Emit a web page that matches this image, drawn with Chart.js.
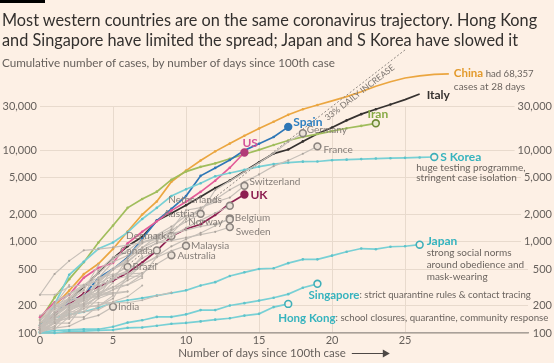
<!DOCTYPE html>
<html><head><meta charset="utf-8">
<script src="https://cdn.jsdelivr.net/npm/chart.js@4.4.1/dist/chart.umd.min.js"></script>
<style>
html,body{margin:0;padding:0;background:#fdf0e5;}
#wrap{position:relative;width:554px;height:363px;overflow:hidden;background:#fdf0e5;font-family:Lato,sans-serif;}
#bar{position:absolute;left:0;top:0;width:45px;height:3px;background:#000;}
#title{position:absolute;left:2px;top:10px;font-size:16.3px;line-height:19.5px;color:#33302e;white-space:nowrap;}
#sub{position:absolute;left:2px;top:55px;font-size:11.7px;line-height:14px;color:#66605c;white-space:nowrap;}
canvas{position:absolute;left:0;top:0;}
</style></head>
<body><div id="wrap"><canvas id="c" width="554" height="363"></canvas><div id="bar"></div>
<div id="title">Most western countries are on the same coronavirus trajectory. Hong Kong<br>and Singapore have limited the spread; Japan and S Korea have slowed it</div>
<div id="sub">Cumulative number of cases, by number of days since 100th case</div></div>
<script>
// ---------- data (cumulative cases, index = days since 100th case) ----------
const xTicks = [0, 5, 10, 15, 20, 25];
const yTicks = [100, 200, 500, 1000, 2000, 5000, 10000, 30000];
const china = [121,198,291,440,571,830,1287,1975,2744,4515,5974,7711,9692,11791,14380,17205,20438,24324,28018,31161,34546,38500,43500,50000,56000,61500,65000,67300,68357];
const italy = [110,155,229,322,453,655,888,1128,1694,2036,2502,3089,3858,4636,5883,7375,9172,10149,12462,15113,17660,21157,24747,27980,31506,35713,41035];
const spain = [120,165,222,259,400,500,673,1073,1695,2277,3146,5232,6391,7798,9942,11748,13910,17963];
const germany = [130,159,196,262,482,670,799,1040,1176,1457,1908,2078,3675,4585,5795,7272,9257,12327,15320];
const france = [100,130,191,204,288,380,656,957,1136,1219,1794,2293,2876,3681,4496,5423,6683,7715,9124,10995];
const iran = [139,245,388,593,978,1501,2336,2922,3513,4747,5823,6566,7161,8042,9000,10075,11364,12729,13938,14991,16169,17361,18407,19644];
const us = [149,217,262,402,518,583,959,1281,1663,2179,2727,3499,4632,6421,9415];
const switzerland = [114,214,268,337,374,491,652,858,1139,1359,2200,2353,2700,3028,4075];
const uk = [115,163,206,273,321,373,456,590,798,1140,1372,1543,1950,2626,3269];
const netherlands = [128,188,265,321,382,503,614,804,959,1135,1413,1705,2051,2460];
const austria = [104,131,182,246,302,504,655,860,1018,1332,1646,2013];
const belgium = [109,169,200,239,267,314,399,559,689,886,1058,1243,1486,1795];
const sweden = [101,161,203,248,355,500,599,814,961,1022,1103,1190,1279,1439];
const norway = [108,147,176,205,400,598,702,996,1090,1221,1333,1463,1550,1746];
const denmark = [262,442,615,801,827,864,914,977,1057,1151];
const canada = [108,117,193,198,252,415,478,657,800];
const malaysia = [100,129,149,149,197,238,428,566,673,790,900];
const australia = [107,128,128,200,250,297,377,452,568,709];
const brazil = [121,151,200,234,346,428,529];
const india = [102,113,119,142,156,194];
const japan = [122,147,159,170,189,214,228,241,256,274,293,331,360,420,461,502,511,581,639,639,701,773,839,825,878,889,924];
const singapore = [102,106,108,110,110,117,130,138,150,150,160,178,178,200,212,226,243,266,313,345];
const hongKong = [100,100,105,105,107,108,114,115,120,126,129,134,140,145,155,162,192,208];
const sKorea = [104,204,433,602,833,977,1261,1766,2337,3150,3736,4335,5186,5621,6088,6593,7041,7314,7478,7513,7755,7869,7979,8086,8162,8236,8320,8413];
// unlabelled grey countries
const qatar = [262,262,320,337,401,439,442,452];
const portugal = [112,169,245,331,448,642,785];
const israel = [109,131,164,200,250,298,337,433,677];
const czechia = [116,141,189,253,298,396,464,694];
const greece = [117,190,228,331,331,387,418,418];
const finland = [109,155,225,244,277,321,336,400];
const ireland = [129,169,223,292,557];
const iceland = [117,134,156,171,180,220,250,330];
const slovenia = [141,181,219,253,275,275,286];
const bahrain = [110,195,195,210,214,214,214,228,256,278];
const estonia = [115,171,205,225,258,267,283];
const poland = [103,119,177,238,251,355];
const romania = [123,131,158,184,260,277];
const egypt = [109,110,150,196,196,256];
const indonesia = [117,134,172,227,311];
const philippines = [111,140,142,187,202,217];
const thailand = [114,147,177,212,272];
const chile = [155,201,238,238,342];
const saudi = [103,118,171,171,238,274];
const pakistan = [136,187,237,301];
const luxembourg = [140,203,335];
// 33% daily increase guide: [day, cases]
const dailyIncrease = [[0,100],[25,124800]];

// ---------- styles ----------
const BG = '#fdf0e5';
const C = {
  grid:'#e8dacd', axis:'#a9a19a', tick:'#66605c', note:'#6b645f',
  orange:'#eba640', orangeTxt:'#e39a2c',
  dark:'#363230', blue:'#2f77b6', blueTxt:'#2f80c2',
  green:'#a0bd5c', greenTxt:'#87aa45',
  pink:'#e35b98', pinkTxt:'#d4529a', maroon:'#8d1f50',
  cyan:'#78d0d5', cyanDot:'#3eafb9', cyanTxt:'#36b3be',
  gray:'#c6bfb8', grayDot:'#8b847f', grayTxt:'#857e79'
};
const F = 'Lato, sans-serif';
const bold = s => `bold ${s}px ${F}`;
const reg = s => `${s}px ${F}`;

function pts(arr){ return arr.map((v,i)=>({x:i,y:v})); }

function line(values, o){
  const last = values.length-1;
  return {
    data: pts(values), showLine:true, clip:false,
    borderColor:o.color, borderWidth:o.width||1.7, tension:0,
    pointRadius: c => c.dataIndex===last && o.end ? 3.4 : (o.dot||1.3),
    pointBackgroundColor: c => c.dataIndex===last && o.end ? (o.endFill||BG) : (o.dotColor||o.color),
    pointBorderColor: c => c.dataIndex===last && o.end ? (o.endStroke||o.color) : (o.dotColor||o.color),
    pointBorderWidth: c => c.dataIndex===last && o.end ? 1.6 : 0,
    _label: o.label || null
  };
}
const greyBg = [qatar,portugal,israel,czechia,greece,finland,ireland,iceland,slovenia,bahrain,estonia,poland,romania,egypt,indonesia,philippines,thailand,chile,saudi,pakistan,luxembourg];
const gLbl = (t, dx, dy, align) => ({parts:[{t, f:reg(10), c:C.grayTxt}], dx, dy, align});
const greyOpt = (label) => ({color:C.gray, width:1.2, dot:1.1, dotColor:'#aca49d', end:true, endFill:'#ece2d8', endStroke:C.grayDot, label});

const datasets = [];
greyBg.forEach(a => datasets.push(line(a,{color:C.gray, width:1.1, dot:1.0, dotColor:'#b6aea7'})));
[
  [netherlands, gLbl('Netherlands',-8,-6,'right')],
  [austria, gLbl('Austria',-6,0,'right')],
  [norway, gLbl('Norway',-7,2,'right')],
  [belgium, gLbl('Belgium',5,-1)],
  [sweden, gLbl('Sweden',6,5)],
  [denmark, gLbl('Denmark',-5,0,'right')],
  [canada, gLbl('Canada',-4,0,'right')],
  [malaysia, gLbl('Malaysia',5,0)],
  [australia, gLbl('Australia',6,1)],
  [brazil, gLbl('Brazil',5,0)],
  [india, gLbl('India',5,0)],
  [switzerland, gLbl('Switzerland',5,-4)],
  [germany, gLbl('Germany',4,-3)],
  [france, gLbl('France',6,3)]
].forEach(([a,l]) => datasets.push(line(a, greyOpt(l))));
datasets.push({data: dailyIncrease.map(([x,y])=>({x,y})), showLine:true, clip:false, borderColor:'#8f8882', borderWidth:1, borderDash:[2,2], pointRadius:0, _guide:true});
const cyanOpt = (label) => ({color:C.cyan, width:1.7, dotColor:'#5fc3ca', end:true, endFill:BG, endStroke:C.cyanDot, label});
datasets.push(line(hongKong, cyanOpt({parts:[{t:'Hong Kong',f:bold(11.5),c:C.cyanTxt},{t:': school closures, quarantine, community response',f:reg(9.7),c:C.note}],dx:-10,dy:14})));
datasets.push(line(singapore, cyanOpt({parts:[{t:'Singapore',f:bold(11.5),c:C.cyanTxt},{t:': strict quarantine rules & contact tracing',f:reg(9.6),c:C.note}],dx:-9,dy:11})));
datasets.push(line(japan, cyanOpt({parts:[{t:'Japan',f:bold(12),c:C.cyanTxt}],dx:7,dy:-4,
  lines:[{t:'strong social norms',dx:7,dy:8},{t:'around obedience and',dx:7,dy:20},{t:'mask-wearing',dx:7,dy:32}]})));
datasets.push(line(sKorea, cyanOpt({parts:[{t:'S Korea',f:bold(12),c:C.cyanTxt}],dx:6,dy:0,
  lines:[{t:'huge testing programme,',dx:-18,dy:11},{t:'stringent case isolation',dx:-18,dy:21}]})));
datasets.push(line(uk, {color:C.maroon, end:true, endFill:C.maroon, label:{parts:[{t:'UK',f:bold(12),c:C.maroon}],dx:6,dy:1}}));
datasets.push(line(us, {color:C.pink, end:true, endFill:'#b23b78', endStroke:'#b23b78', label:{parts:[{t:'US',f:bold(12),c:C.pinkTxt}],dx:-2,dy:-9}}));
datasets.push(line(spain, {color:C.blue, end:true, endFill:C.blue, label:{parts:[{t:'Spain',f:bold(12),c:C.blueTxt}],dx:5,dy:-5}}));
datasets.push(line(iran, {color:C.green, end:true, endFill:'#e9ead0', endStroke:'#6f8a35', label:{parts:[{t:'Iran',f:bold(12),c:C.greenTxt}],dx:2,dy:-9,align:'center'}}));
datasets.push(line(italy, {color:C.dark, end:true, endFill:C.dark, label:{parts:[{t:'Italy',f:bold(12),c:C.dark}],dx:7,dy:1}}));
datasets.push(line(china, {color:C.orange, end:true, endFill:BG, endStroke:'#c98a2c', label:{parts:[{t:'China',f:bold(11.5),c:C.orangeTxt},{t:' had 68,357',f:reg(9.6),c:C.note}],dx:5,dy:0,
  lines:[{t:'cases at 28 days',dx:5,dy:13}]}}));

const fmt = v => String(Math.round(v)).replace(/\B(?=(\d{3})+(?!\d))/g, ',');

const labelPlugin = {
  id:'labels',
  beforeDatasetsDraw(chart){
    // right-hand axis labels, right-aligned at the canvas edge, masking the grid beneath
    const ctx = chart.ctx, ys = chart.scales.y;
    ctx.save(); ctx.font = reg(11); ctx.textAlign='right'; ctx.textBaseline='middle';
    yTicks.forEach(v=>{
      const y = ys.getPixelForValue(v), t = fmt(v), w = ctx.measureText(t).width;
      ctx.fillStyle = BG; ctx.fillRect(552-w-3, y-6, w+5, 12);
      ctx.fillStyle = C.tick; ctx.fillText(t, 552, y);
    });
    ctx.restore();
  },
  afterDatasetsDraw(chart){
    const ctx = chart.ctx;
    chart.data.datasets.forEach((ds,i)=>{
      const meta = chart.getDatasetMeta(i);
      if (ds._guide) {
        const a = meta.data[0], b = meta.data[1];
        const ang = Math.atan2(b.y-a.y, b.x-a.x);
        const t = (356 - a.x)/(b.x-a.x);
        const cx = a.x + t*(b.x-a.x) + 6*(-Math.sin(ang));
        const cy = a.y + t*(b.y-a.y) + 6*Math.cos(ang);
        ctx.save(); ctx.translate(cx,cy); ctx.rotate(ang);
        ctx.font = reg(8.6); ctx.fillStyle='#7d7671'; ctx.textAlign='center'; ctx.textBaseline='middle';
        ctx.fillText('33% DAILY INCREASE',0,0); ctx.restore();
        return;
      }
      const L = ds._label; if (!L) return;
      const p = meta.data[meta.data.length-1];
      ctx.save(); ctx.textBaseline='middle'; ctx.textAlign='left';
      let total = 0;
      L.parts.forEach(q=>{ctx.font=q.f; q.w=ctx.measureText(q.t).width; total+=q.w;});
      let x = p.x + L.dx; const y = p.y + L.dy;
      if (L.align==='right') x -= total; else if (L.align==='center') x -= total/2;
      L.parts.forEach(q=>{ctx.font=q.f; ctx.fillStyle=q.c; ctx.fillText(q.t,x,y); x+=q.w;});
      (L.lines||[]).forEach(l=>{ctx.font=reg(10); ctx.fillStyle=C.note; ctx.fillText(l.t,p.x+l.dx,p.y+l.dy);});
      ctx.restore();
    });
  },
  afterDraw(chart){
    const ctx = chart.ctx;
    const txt = 'Number of days since 100th case';
    ctx.save(); ctx.font = reg(11.5); ctx.fillStyle = C.tick; ctx.textBaseline='middle'; ctx.textAlign='left';
    const w = ctx.measureText(txt).width, aw = 38;
    const ca = chart.chartArea;
    let x0 = (ca.left+ca.right)/2 - (w+6+aw)/2; const y = 353;
    ctx.fillText(txt, x0, y);
    const s = x0 + w + 6;
    ctx.strokeStyle = '#4d4845'; ctx.lineWidth = 1;
    ctx.beginPath(); ctx.moveTo(s, y+0.5); ctx.lineTo(s+aw-6, y+0.5); ctx.stroke();
    ctx.fillStyle = '#4d4845'; ctx.beginPath(); ctx.moveTo(s+aw-7, y-3.5); ctx.lineTo(s+aw, y+0.5); ctx.lineTo(s+aw-7, y+4.5); ctx.closePath(); ctx.fill();
    ctx.restore();
  }
};

new Chart(document.getElementById('c'), {
  type:'line',
  data:{datasets},
  plugins:[labelPlugin],
  options:{
    responsive:false, animation:false, devicePixelRatio:1,
    layout:{padding:{top:106.5,left:0,right:26,bottom:0}},
    plugins:{legend:{display:false}, tooltip:{enabled:false}},
    scales:{
      x:{type:'linear', min:0, max:33.42,
        afterBuildTicks: s => { s.ticks = xTicks.map(v=>({value:v})); },
        afterFit: s => { s.height = 30; },
        grid:{drawTicks:false, color: c => (c.tick && c.tick.value===0) ? 'rgba(0,0,0,0)' : C.grid},
        border:{display:true, color:C.axis, width:1.6},
        ticks:{padding:1, maxRotation:0, color:C.tick, font:{family:F, size:11}}
      },
      y:{type:'logarithmic', position:'left', min:100, max:30000,
        afterBuildTicks: s => { s.ticks = yTicks.map(v=>({value:v})); },
        afterFit: s => { s.width = 40; },
        grid:{drawTicks:false, color:C.grid},
        border:{display:false},
        ticks:{padding:3, color:C.tick, font:{family:F, size:11}, callback: v => fmt(v)}
      }
    }
  }
});
</script>
</body></html>
